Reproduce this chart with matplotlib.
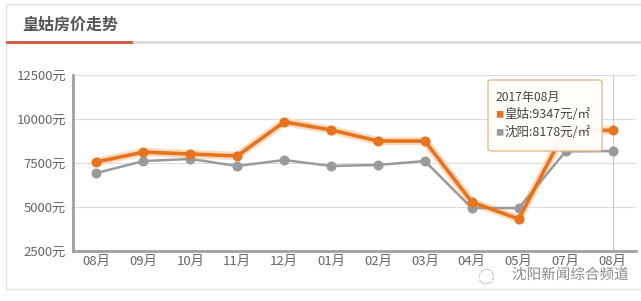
import matplotlib
matplotlib.use('Agg')
import matplotlib.pyplot as plt
import matplotlib.patheffects as pe
from matplotlib.patches import FancyBboxPatch, Rectangle

plt.rcParams['font.family'] = ['Noto Sans CJK SC', 'DejaVu Sans']

# data
months = ['08月', '09月', '10月', '11月', '12月', '01月', '02月', '03月', '04月', '05月', '07月', '08月']
huanggu = [7560, 8120, 8010, 7900, 9830, 9380, 8750, 8750, 5280, 4320, 9400, 9347]
shenyang = [6930, 7610, 7730, 7330, 7670, 7330, 7390, 7610, 4940, 4940, 8160, 8178]
yticks = [2500, 5000, 7500, 10000, 12500]

orange = '#e8731e'
grey = '#9a9a9a'

fig = plt.figure(figsize=(6.41, 3.01), dpi=100)

# card frame and title bar
fig.add_artist(Rectangle((6/641, 1-289/301), 700/641, 285/301, transform=fig.transFigure,
                         fill=False, edgecolor='#e2e2e2', lw=1))
fig.add_artist(plt.Line2D([131/641, 1], [1-42/301]*2, color='#dcdcdc', lw=2))
fig.add_artist(plt.Line2D([7/641, 131/641], [1-42/301]*2, color='#d2553a', lw=2))
fig.text(22/641, 1-25/301, '皇姑房价走势', fontsize=11.5, fontweight='bold',
         color='#555555', va='center', ha='left')

ax = fig.add_axes([73/641, 1-251/301, 563/641, 176/301])
x = list(range(len(months)))

# soft glow under the orange line
ax.plot(x, huanggu, color='#fbdcc0', lw=6, zorder=3, solid_capstyle='round')
ax.plot(x, huanggu, color=orange, lw=2.6, marker='o', ms=6.2, zorder=4)
ax.plot(x, shenyang, color=grey, lw=1.8, marker='o', ms=6.2, zorder=3)

ax.set_xlim(-0.5, len(months) - 0.5)
ax.set_ylim(2500, 12500)
ax.set_yticks(yticks)
ax.set_yticklabels([f'{v}元' for v in yticks])
ax.set_xticks(x)
ax.set_xticklabels(months)
ax.tick_params(axis='both', length=0, labelsize=9.5, labelcolor='#666666')
ax.tick_params(axis='x', pad=3)
ax.tick_params(axis='y', pad=5)
ax.grid(axis='y', color='#dddddd', lw=0.8)
ax.set_axisbelow(True)
for s in ['top', 'right']:
    ax.spines[s].set_visible(False)
for s in ['left', 'bottom']:
    ax.spines[s].set_color('#a0a0a0')
    ax.spines[s].set_linewidth(2)

# hover crosshair on the last month
ax.axvline(x[-1], color='#c8c8c8', lw=0.8, zorder=2)

# tooltip
box = FancyBboxPatch((488/641, 1-151/301), 114/641, 71/301, transform=fig.transFigure,
                     boxstyle='round,pad=0,rounding_size=0.006', facecolor='#fffdf9',
                     edgecolor='#e6b88a', lw=1, alpha=0.95, zorder=10)
fig.add_artist(box)
fig.text(495/641, 1-97/301, '2017年08月', fontsize=8.7, color='#444444', va='center', zorder=11)
fig.text(495/641, 1-115/301, '■', fontsize=6, color=orange, va='center', zorder=11)
fig.text(504/641, 1-115/301, f'皇姑:{huanggu[-1]}元/㎡', fontsize=9, color='#444444', va='center', zorder=11)
fig.text(495/641, 1-133/301, '■', fontsize=6, color=grey, va='center', zorder=11)
fig.text(504/641, 1-133/301, f'沈阳:{shenyang[-1]}元/㎡', fontsize=9, color='#444444', va='center', zorder=11)

# watermark
fig.text(629/641, 1-275/301, '沈阳新闻综合频道', fontsize=10.5, color='#8a8a8a', ha='right', va='center',
         path_effects=[pe.withStroke(linewidth=2, foreground='white')], zorder=12)
fig.text(486/641, 1-278/301, '◌', fontsize=12, color='#9a9a9a', ha='center', va='center', zorder=12)

fig.savefig('out.png', dpi=100, facecolor='white')
